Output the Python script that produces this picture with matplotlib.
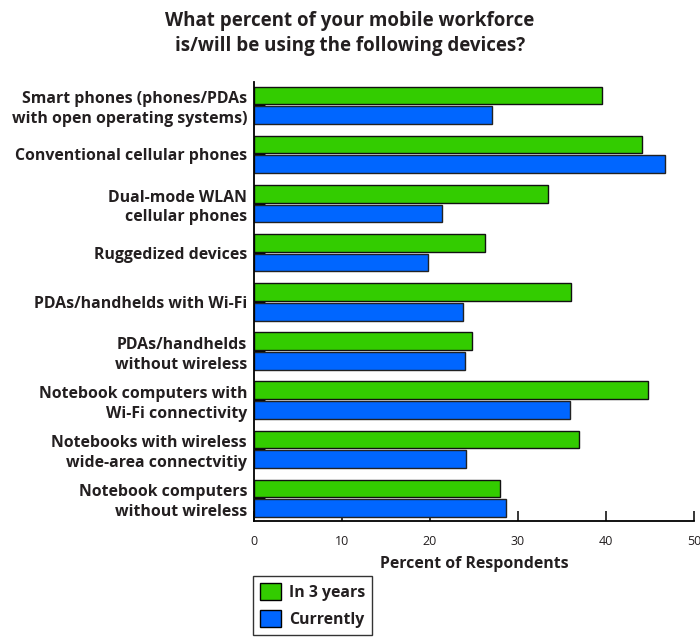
import matplotlib
matplotlib.use('Agg')
import matplotlib.pyplot as plt
from matplotlib.patches import Patch
import numpy as np

plt.rcParams['font.family'] = ['Open Sans', 'DejaVu Sans']

# ── Data ───────────────────────────────────────────────────────────────────────
CATEGORIES = [
    'Smart phones (phones/PDAs\nwith open operating systems)',
    'Conventional cellular phones',
    'Dual-mode WLAN\ncellular phones',
    'Ruggedized devices',
    'PDAs/handhelds with Wi-Fi',
    'PDAs/handhelds\nwithout wireless',
    'Notebook computers with\nWi-Fi connectivity',
    'Notebooks with wireless\nwide-area connectvitiy',
    'Notebook computers\nwithout wireless',
]
IN_3_YEARS = [39.5, 44.1, 33.4, 26.2, 36.0, 24.8, 44.8, 36.9, 27.9]
CURRENTLY  = [27.0, 46.7, 21.4, 19.8, 23.7, 24.0, 35.9, 24.1, 28.6]
XTICKS     = [0, 10, 20, 30, 40, 50]

GREEN = '#33CC00'
BLUE  = '#0066FF'
TEXT  = '#231F20'

# ── Figure ─────────────────────────────────────────────────────────────────────
fig = plt.figure(figsize=(7, 6.37), dpi=100)
ax = fig.add_axes([254/700, 1 - 521/637, 440/700, 439/637])

y = np.arange(len(CATEGORIES))
h = 0.36
ax.barh(y - 0.2, IN_3_YEARS, height=h, color=GREEN, edgecolor='#111111',
        linewidth=1.0, label='In 3 years')
ax.barh(y + 0.2, CURRENTLY, height=h, color=BLUE, edgecolor='#222222',
        linewidth=1.0, label='Currently')

ax.set_xlim(0, 50)
ax.set_ylim(8.46, -0.475)
ax.set_axisbelow(True)

ax.set_xticks(XTICKS)
ax.set_xticklabels([str(t) for t in XTICKS], fontsize=9, color=TEXT)
ax.set_yticks(y)
ax.set_yticklabels(CATEGORIES, fontsize=11.4, fontweight='bold', color=TEXT,
                   linespacing=1.3)
ax.tick_params(axis='x', direction='in', length=7.5, width=1.1, pad=10, color='black')
ax.tick_params(axis='y', direction='in', length=8, width=1.8, pad=5, color='black')

for side in ('top', 'right'):
    ax.spines[side].set_visible(False)
for side in ('left', 'bottom'):
    ax.spines[side].set_linewidth(1.3)
    ax.spines[side].set_color('black')

ax.set_xlabel('Percent of Respondents', fontsize=11.4, fontweight='bold',
              color=TEXT, labelpad=6)

fig.suptitle('What percent of your mobile workforce\nis/will be using the following devices?',
             x=0.5, y=0.982, fontsize=13.5, fontweight='bold', color=TEXT,
             linespacing=1.3)

handles = [Patch(facecolor=GREEN, edgecolor='black', linewidth=1.0),
           Patch(facecolor=BLUE, edgecolor='black', linewidth=1.0)]
leg = fig.legend(handles, ['In 3 years', 'Currently'],
                 loc='upper left', bbox_to_anchor=(253/700, 1 - 576/637),
                 prop={'weight': 'bold', 'size': 11.4},
                 frameon=True, fancybox=False, borderpad=0.45,
                 handlelength=1.3, handleheight=1.25, handletextpad=0.5,
                 labelspacing=0.6, borderaxespad=0)
leg.get_frame().set_edgecolor('black')
leg.get_frame().set_linewidth(1.0)
for t in leg.get_texts():
    t.set_color(TEXT)

fig.savefig('out.png', dpi=100)
